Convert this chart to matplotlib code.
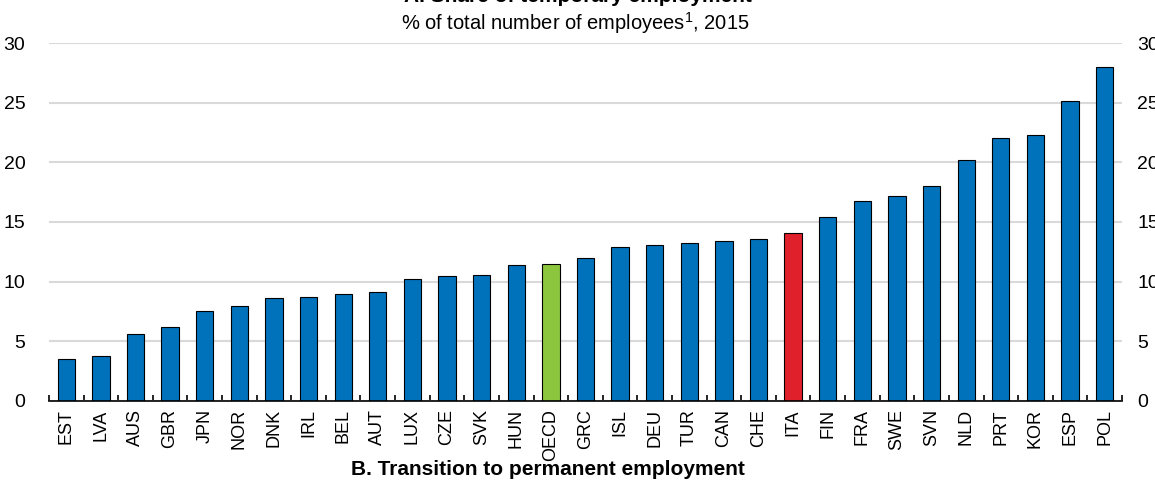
import matplotlib
matplotlib.use("Agg")
import matplotlib.pyplot as plt
import numpy as np

plt.rcParams['font.family'] = ['Liberation Sans', 'DejaVu Sans']

countries = ["EST", "LVA", "AUS", "GBR", "JPN", "NOR", "DNK", "IRL", "BEL", "AUT",
             "LUX", "CZE", "SVK", "HUN", "OECD", "GRC", "ISL", "DEU", "TUR", "CAN",
             "CHE", "ITA", "FIN", "FRA", "SWE", "SVN", "NLD", "PRT", "KOR", "ESP", "POL"]
share = [3.5, 3.75, 5.6, 6.2, 7.5, 8.0, 8.6, 8.7, 9.0, 9.1,
         10.2, 10.5, 10.6, 11.4, 11.45, 11.95, 12.9, 13.1, 13.2, 13.4,
         13.6, 14.05, 15.45, 16.75, 17.2, 18.0, 20.2, 22.0, 22.3, 25.15, 28.0]
yticks = [0, 5, 10, 15, 20, 25, 30]

BLUE = "#0072bc"
GREEN = "#8cc63f"
RED = "#e0202a"
colors = [GREEN if c == "OECD" else RED if c == "ITA" else BLUE for c in countries]

fig = plt.figure(figsize=(11.55, 4.8), dpi=100)
ax = fig.add_axes([0.0424, 0.1646, 0.929, 0.7458])

x = np.arange(len(countries))
ax.bar(x, share, width=0.5, color=colors, edgecolor="black", linewidth=0.8, zorder=3)

ax.set_xlim(-0.5, len(countries) - 0.5)
ax.set_ylim(0, 30)
ax.set_yticks(yticks)
ax.yaxis.grid(True, color="#d9d9d9", linewidth=1.5, zorder=0)
ax.set_axisbelow(True)

for s in ["top", "left", "right"]:
    ax.spines[s].set_visible(False)
ax.spines["bottom"].set_color("black")
ax.spines["bottom"].set_linewidth(1.2)
ax.spines["bottom"].set_zorder(4)

ax.set_xticks(x)
ax.set_xticklabels(countries, rotation=90, fontsize=13)
ax.set_xticks(np.arange(-0.5, len(countries)), minor=True)
ax.tick_params(axis="x", which="major", length=0, pad=6)
ax.tick_params(axis="x", which="minor", direction="in", length=4, width=1.2, color="black")
ax.tick_params(axis="y", length=0, labelsize=14, pad=17)

# right-hand copy of the scale
ax2 = ax.twinx()
ax2.set_ylim(ax.get_ylim())
ax2.set_yticks(yticks)
ax2.tick_params(axis="y", length=0, labelsize=14, pad=11)
for s in ax2.spines.values():
    s.set_visible(False)

fig.text(0.5, 1.008, "A. Share of temporary employment", ha="center", va="center",
         fontsize=15, fontweight="bold")
fig.text(0.498, 0.953, r"% of total number of employees$^{\mathregular{1}}$, 2015",
         ha="center", va="center", fontsize=14.5)
fig.text(0.474, 0.022, "B. Transition to permanent employment", ha="center", va="center",
         fontsize=15, fontweight="bold")

fig.savefig("out.png", dpi=100)
